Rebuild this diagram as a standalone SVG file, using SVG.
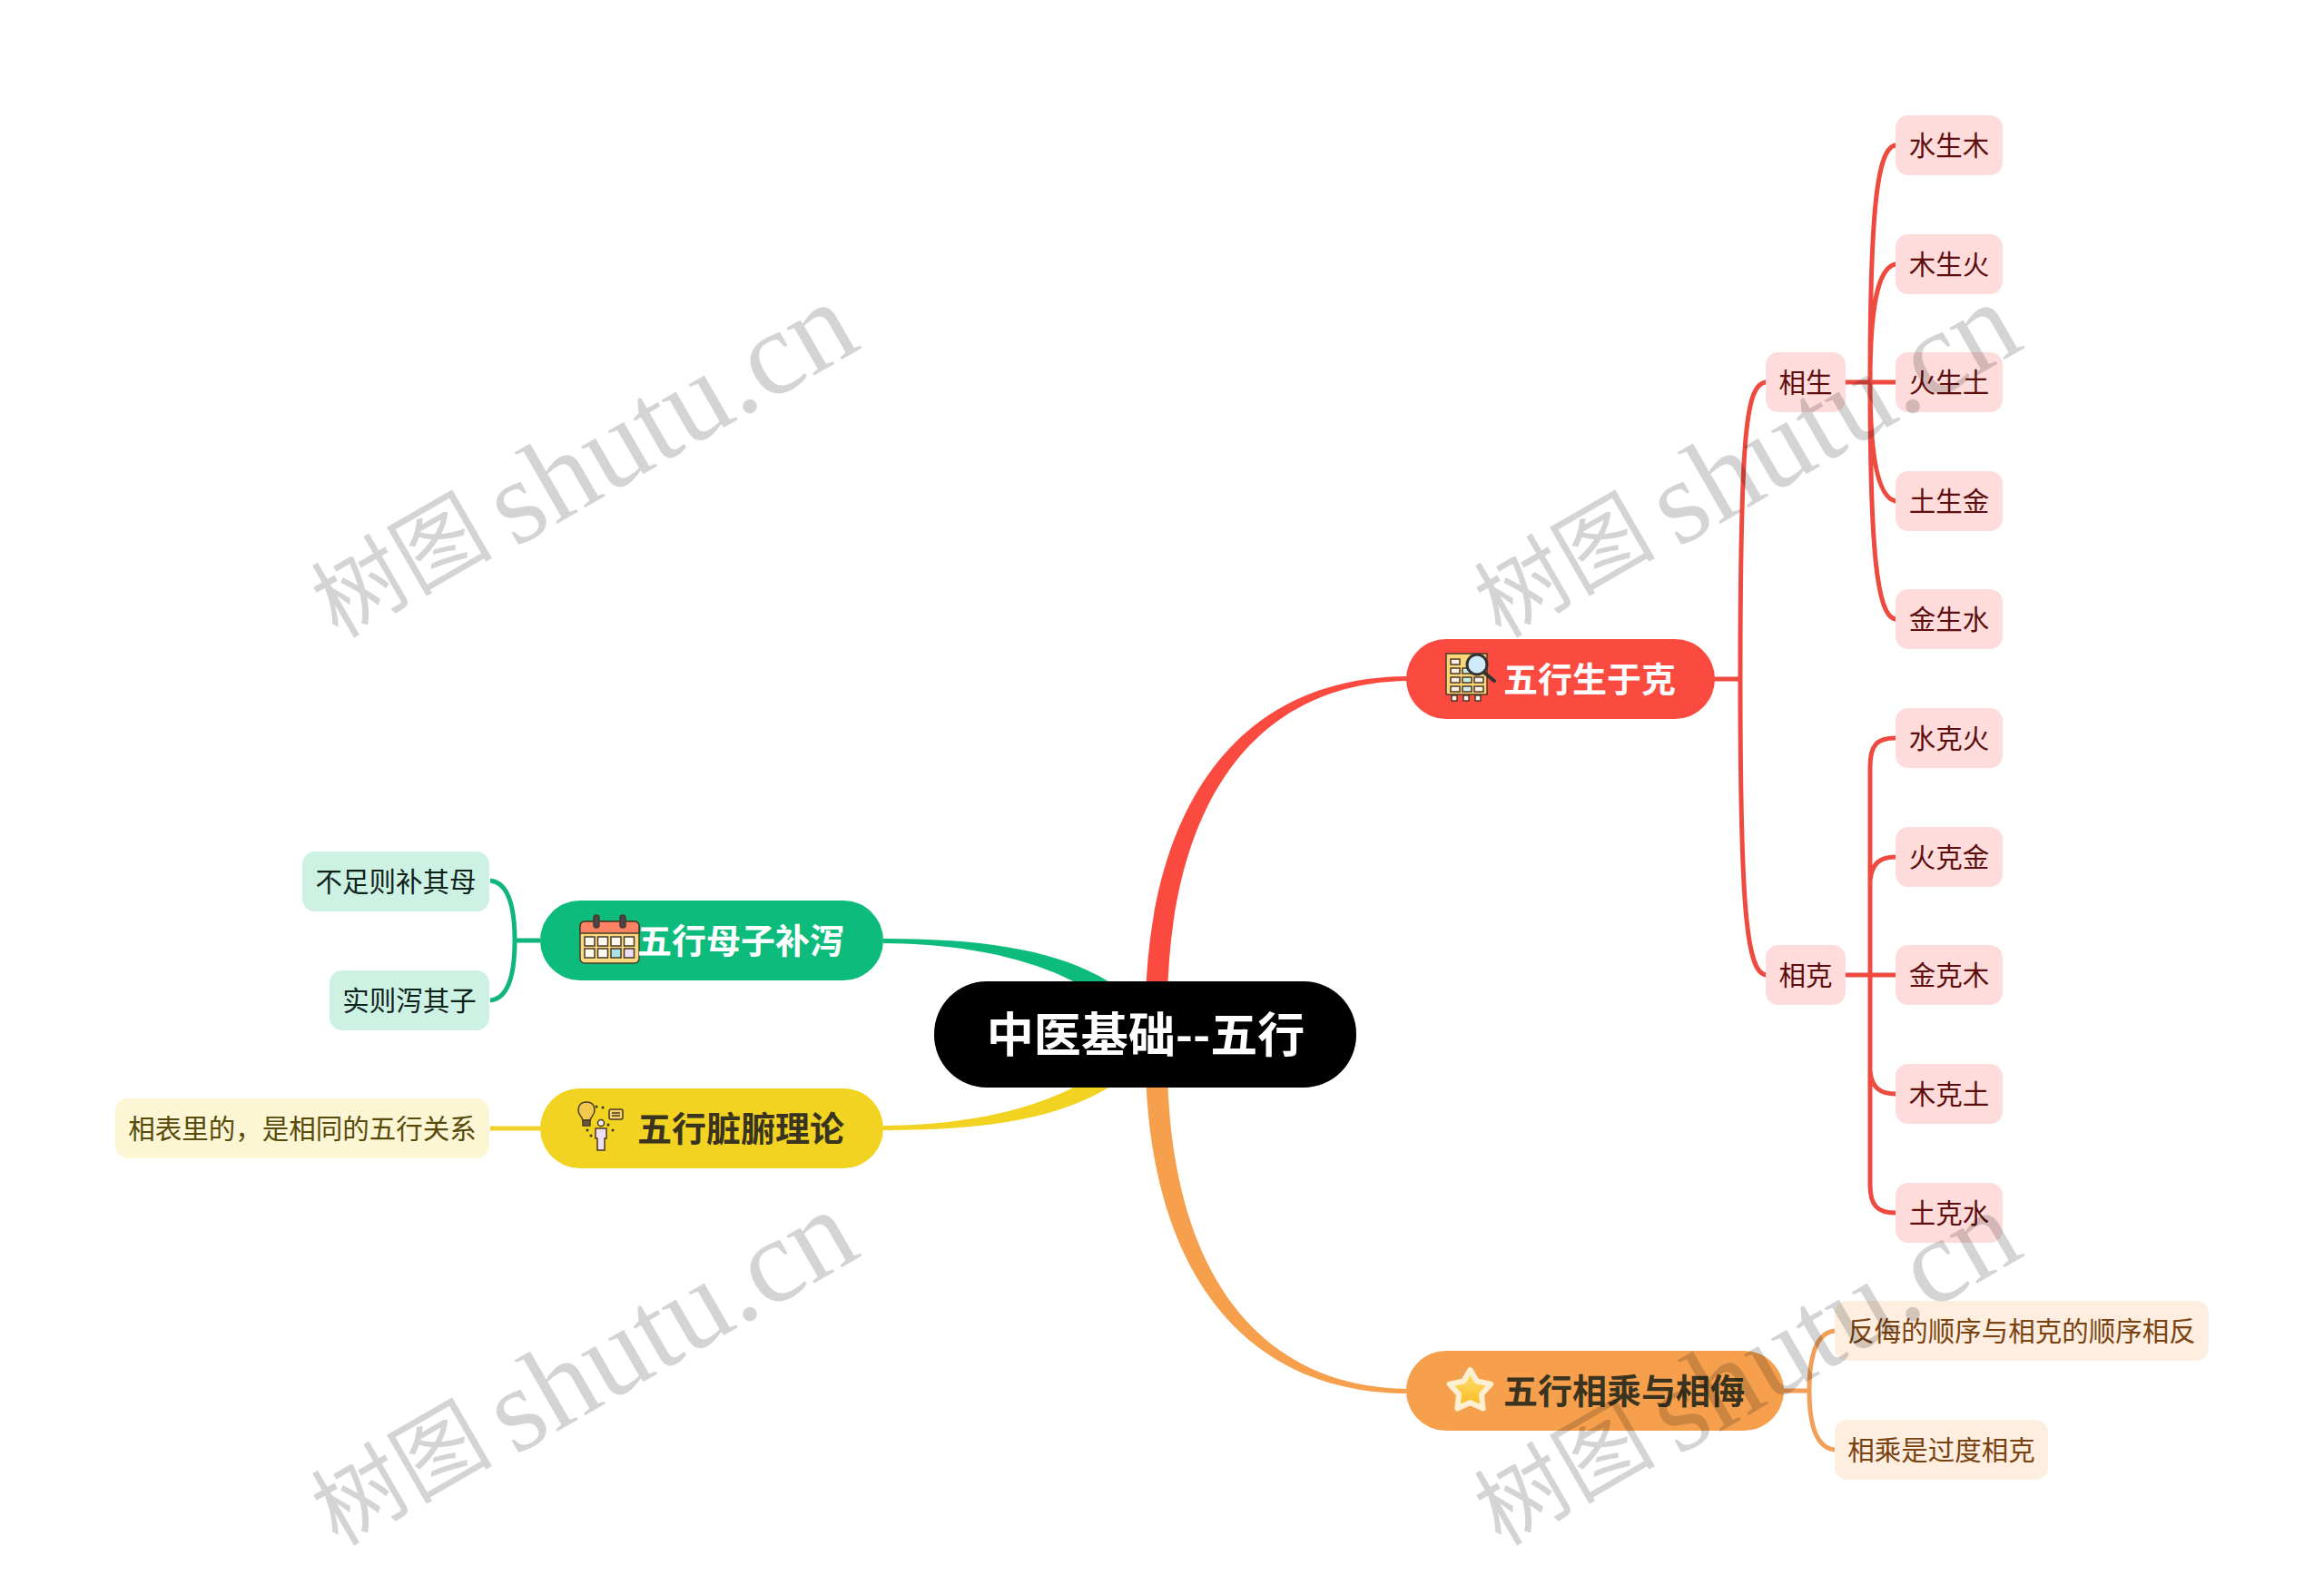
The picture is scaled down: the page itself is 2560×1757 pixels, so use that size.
<svg xmlns="http://www.w3.org/2000/svg" width="2560" height="1757" viewBox="0 0 2560 1757">
<style>
text{font-family:"Noto Sans CJK SC","Noto Sans",sans-serif;text-anchor:middle}
.t{font-size:29.500px}
.p{font-size:38px;font-weight:700}
.rl{fill:none;stroke:#ee4a40;stroke-width:5;stroke-linecap:round}
.gl{fill:none;stroke:#10b57c;stroke-width:5}
.yl{fill:none;stroke:#f0d22a;stroke-width:5}
.ol{fill:none;stroke:#f2a058;stroke-width:5}
.rn{fill:#fddcdb}.rt{fill:#5e0e0e}
.gn{fill:#cdf2e4}.gt{fill:#0f231b}
.yn{fill:#fdf6d4}.yt{fill:#574b0c}
.on{fill:#fdeee0}.ot{fill:#7a4210}
.wl{font-family:"Liberation Serif",serif;font-size:132px;text-anchor:start;fill:#000;fill-opacity:.17}
.wc{font-size:100px;text-anchor:start;fill:#000;fill-opacity:.17}
.ik{stroke:#4a3a26;stroke-width:1.5}
</style>
<defs>
<linearGradient id="sg" x1="0" y1="0" x2="0" y2="1"><stop offset="0" stop-color="#ffe27a"/><stop offset="1" stop-color="#fbb81c"/></linearGradient>
</defs>
<rect width="2560" height="1757" fill="#fff"/>
<g id="connectors">
<path fill="#fb4a3f" d="M1262,1100C1268,880 1370,746 1549,745V750C1385,753 1290,880 1286,1100Z"/>
<path fill="#f6a04d" d="M1262,1180C1268,1400 1370,1534 1549,1535V1530C1385,1527 1290,1400 1286,1180Z"/>
<path fill="#0dbb7c" d="M973,1034C1080,1034 1170,1045 1232,1088H1195C1150,1062 1080,1040 973,1039Z"/>
<path fill="#f2d321" d="M973,1245C1080,1245 1170,1234 1232,1191H1195C1150,1217 1080,1239 973,1240Z"/>
<path class="rl" d="M1889,748H1917M1945,421C1924,424 1917,470 1917,748M1945,1074C1924,1071 1917,1000 1917,748"/>
<path class="rl" d="M2033,421H2088M2088,160C2068,163 2060,230 2060,421M2088,291C2068,295 2060,340 2060,421M2088,552C2068,548 2060,500 2060,421M2088,682C2068,679 2060,610 2060,421"/>
<path class="rl" d="M2033,1074H2088M2088,813C2068,813 2060,820 2060,845V1305C2060,1328 2068,1336 2088,1336M2088,944C2072,944 2062,950 2060,970M2088,1205C2072,1205 2062,1199 2060,1180"/>
<path class="gl" d="M595,1036H567M540,970C560,972 567,1000 567,1036C567,1072 560,1100 540,1102"/>
<path class="yl" d="M595,1243H540"/>
<path class="ol" d="M1965,1532H1993M2021,1466C2002,1468 1993,1490 1993,1532C1993,1574 2002,1595 2021,1597"/>
</g>
<g id="root"><rect x="1029" y="1081" width="465" height="117" rx="58" fill="#000"/><text x="1262" y="1159" font-size="52" font-weight="700" fill="#fff">中医基础--五行</text></g>
<g id="topic-shengke"><rect x="1549" y="704" width="340" height="88" rx="44" fill="#fb4a3f"/>
<g id="icon-chart"><rect class="ik" x="1593" y="720" width="45" height="45" fill="#fbd777"/>
<g class="ik" fill="#fbeee8"><rect x="1598" y="726" width="10" height="6"/><rect x="1598" y="736" width="10" height="6"/><rect x="1611" y="736" width="10" height="6" fill="#cdeee6"/><rect x="1598" y="746" width="10" height="6"/><rect x="1611" y="746" width="10" height="6" fill="#cdeee6"/><rect x="1624" y="746" width="10" height="6"/><rect x="1598" y="756" width="10" height="6"/><rect x="1611" y="756" width="10" height="6" fill="#cdeee6"/><rect x="1624" y="756" width="10" height="6"/><rect x="1599" y="766" width="6" height="6"/><rect x="1612" y="766" width="6" height="6"/><rect x="1625" y="766" width="6" height="6"/></g>
<path d="M1635,741L1646,750" stroke="#333" stroke-width="4" stroke-linecap="round"/><circle cx="1627" cy="732" r="11" fill="#cfeaf8" stroke="#333" stroke-width="3"/></g>
<text class="p" x="1751" y="762" fill="#fff">五行生于克</text></g>
<g id="topic-muzi"><rect x="595" y="992" width="378" height="88" rx="44" fill="#0dbb7c"/>
<g id="icon-calendar"><rect class="ik" x="639" y="1015" width="65" height="46" rx="5" fill="#fbd97f"/><path class="ik" d="M639,1028V1020a5,5 0 0 1 5,-5H699a5,5 0 0 1 5,5V1028Z" fill="#fb8263"/><rect class="ik" x="654" y="1008" width="6" height="14" rx="3" fill="#48464a"/><rect class="ik" x="683" y="1008" width="6" height="14" rx="3" fill="#48464a"/>
<g class="ik" fill="#fdf8f0"><rect x="644" y="1032" width="11" height="10"/><rect x="658.500" y="1032" width="11" height="10"/><rect x="673" y="1032" width="11" height="10"/><rect x="687.500" y="1032" width="11" height="10"/><rect x="644" y="1045" width="11" height="10"/><rect x="658.500" y="1045" width="11" height="10"/><rect x="673" y="1045" width="11" height="10" fill="#a9e2e6"/><rect x="687.500" y="1045" width="11" height="10" fill="#ecdcf6"/></g></g>
<text class="p" x="816" y="1050" fill="#fff">五行母子补泻</text></g>
<g id="topic-zangfu"><rect x="595" y="1199" width="378" height="88" rx="44" fill="#f2d321"/>
<g id="icon-idea"><path class="ik" d="M646,1214c-7,0-9,5-9,9c0,5 4,7 5,11h8c1,-4 5,-6 5,-11c0,-4-2,-9-9,-9Z" fill="#f2c94c"/><rect class="ik" x="642" y="1234" width="8" height="6" fill="#6a5a3a"/><rect class="ik" x="671" y="1222" width="15" height="11" rx="2" fill="#f6d36a"/><path class="ik" d="M674,1226h9M674,1229h9" fill="none"/><circle class="ik" cx="662" cy="1237" r="3.500" fill="#fbf2f6"/><path class="ik" d="M656,1243h12v11h-2v13h-8v-13h-2Z" fill="#eee0f2"/><g fill="#3a3320"><circle cx="657" cy="1219" r="1.500"/><circle cx="664" cy="1220" r="1.500"/><circle cx="670" cy="1239" r="1.500"/><circle cx="675" cy="1245" r="1.500"/><circle cx="647" cy="1245" r="1.500"/><circle cx="651" cy="1251" r="1.500"/></g></g>
<text class="p" x="816" y="1257" fill="#3a3320">五行脏腑理论</text></g>
<g id="topic-chengwu"><rect x="1549" y="1488" width="416" height="88" rx="44" fill="#f6a04d"/>
<path id="icon-star" d="M1619.500,1509L1627,1521.500L1642.300,1524.600L1632,1536L1633.600,1551.400L1619.500,1545L1605.400,1551.400L1607,1536L1596.700,1524.600L1612,1521.500Z" fill="url(#sg)" stroke="#fdf0d2" stroke-width="6" stroke-linejoin="round"/>
<text class="p" x="1789" y="1546" fill="#3a3320">五行相乘与相侮</text></g>
<g id="n-xiangsheng"><rect class="rn" x="1945" y="388" width="88" height="66" rx="14"/><text class="t rt" x="1989" y="432">相生</text></g>
<g id="n-xiangke"><rect class="rn" x="1945" y="1041" width="88" height="66" rx="14"/><text class="t rt" x="1989" y="1085">相克</text></g>
<g id="n-s1"><rect class="rn" x="2088" y="127" width="118" height="66" rx="14"/><text class="t rt" x="2147" y="171">水生木</text></g>
<g id="n-s2"><rect class="rn" x="2088" y="258" width="118" height="66" rx="14"/><text class="t rt" x="2147" y="302">木生火</text></g>
<g id="n-s3"><rect class="rn" x="2088" y="388" width="118" height="66" rx="14"/><text class="t rt" x="2147" y="432">火生土</text></g>
<g id="n-s4"><rect class="rn" x="2088" y="519" width="118" height="66" rx="14"/><text class="t rt" x="2147" y="563">土生金</text></g>
<g id="n-s5"><rect class="rn" x="2088" y="649" width="118" height="66" rx="14"/><text class="t rt" x="2147" y="693">金生水</text></g>
<g id="n-k1"><rect class="rn" x="2088" y="780" width="118" height="66" rx="14"/><text class="t rt" x="2147" y="824">水克火</text></g>
<g id="n-k2"><rect class="rn" x="2088" y="911" width="118" height="66" rx="14"/><text class="t rt" x="2147" y="955">火克金</text></g>
<g id="n-k3"><rect class="rn" x="2088" y="1041" width="118" height="66" rx="14"/><text class="t rt" x="2147" y="1085">金克木</text></g>
<g id="n-k4"><rect class="rn" x="2088" y="1172" width="118" height="66" rx="14"/><text class="t rt" x="2147" y="1216">木克土</text></g>
<g id="n-k5"><rect class="rn" x="2088" y="1303" width="118" height="66" rx="14"/><text class="t rt" x="2147" y="1347">土克水</text></g>
<g id="n-o1"><rect class="on" x="2021" y="1433" width="412" height="66" rx="14"/><text class="t ot" x="2227" y="1477">反侮的顺序与相克的顺序相反</text></g>
<g id="n-o2"><rect class="on" x="2021" y="1564" width="235" height="66" rx="14"/><text class="t ot" x="2138.500" y="1608">相乘是过度相克</text></g>
<g id="n-g1"><rect class="gn" x="333" y="938" width="206" height="66" rx="14"/><text class="t gt" x="436" y="982">不足则补其母</text></g>
<g id="n-g2"><rect class="gn" x="363" y="1069" width="176" height="66" rx="14"/><text class="t gt" x="451" y="1113">实则泻其子</text></g>
<g id="n-y1"><rect class="yn" x="127" y="1210" width="412" height="66" rx="14"/><text class="t yt" x="333" y="1254">相表里的，是相同的五行关系</text></g>
<g id="watermark">
<text class="wc" transform="translate(372 704) rotate(-30)">树图</text><text class="wl" transform="translate(567 604) rotate(-30)">shutu.cn</text>
<text class="wc" transform="translate(1653 704) rotate(-30)">树图</text><text class="wl" transform="translate(1848 604) rotate(-30)">shutu.cn</text>
<text class="wc" transform="translate(372 1704) rotate(-30)">树图</text><text class="wl" transform="translate(567 1604) rotate(-30)">shutu.cn</text>
<text class="wc" transform="translate(1653 1704) rotate(-30)">树图</text><text class="wl" transform="translate(1848 1604) rotate(-30)">shutu.cn</text>
</g>
</svg>
